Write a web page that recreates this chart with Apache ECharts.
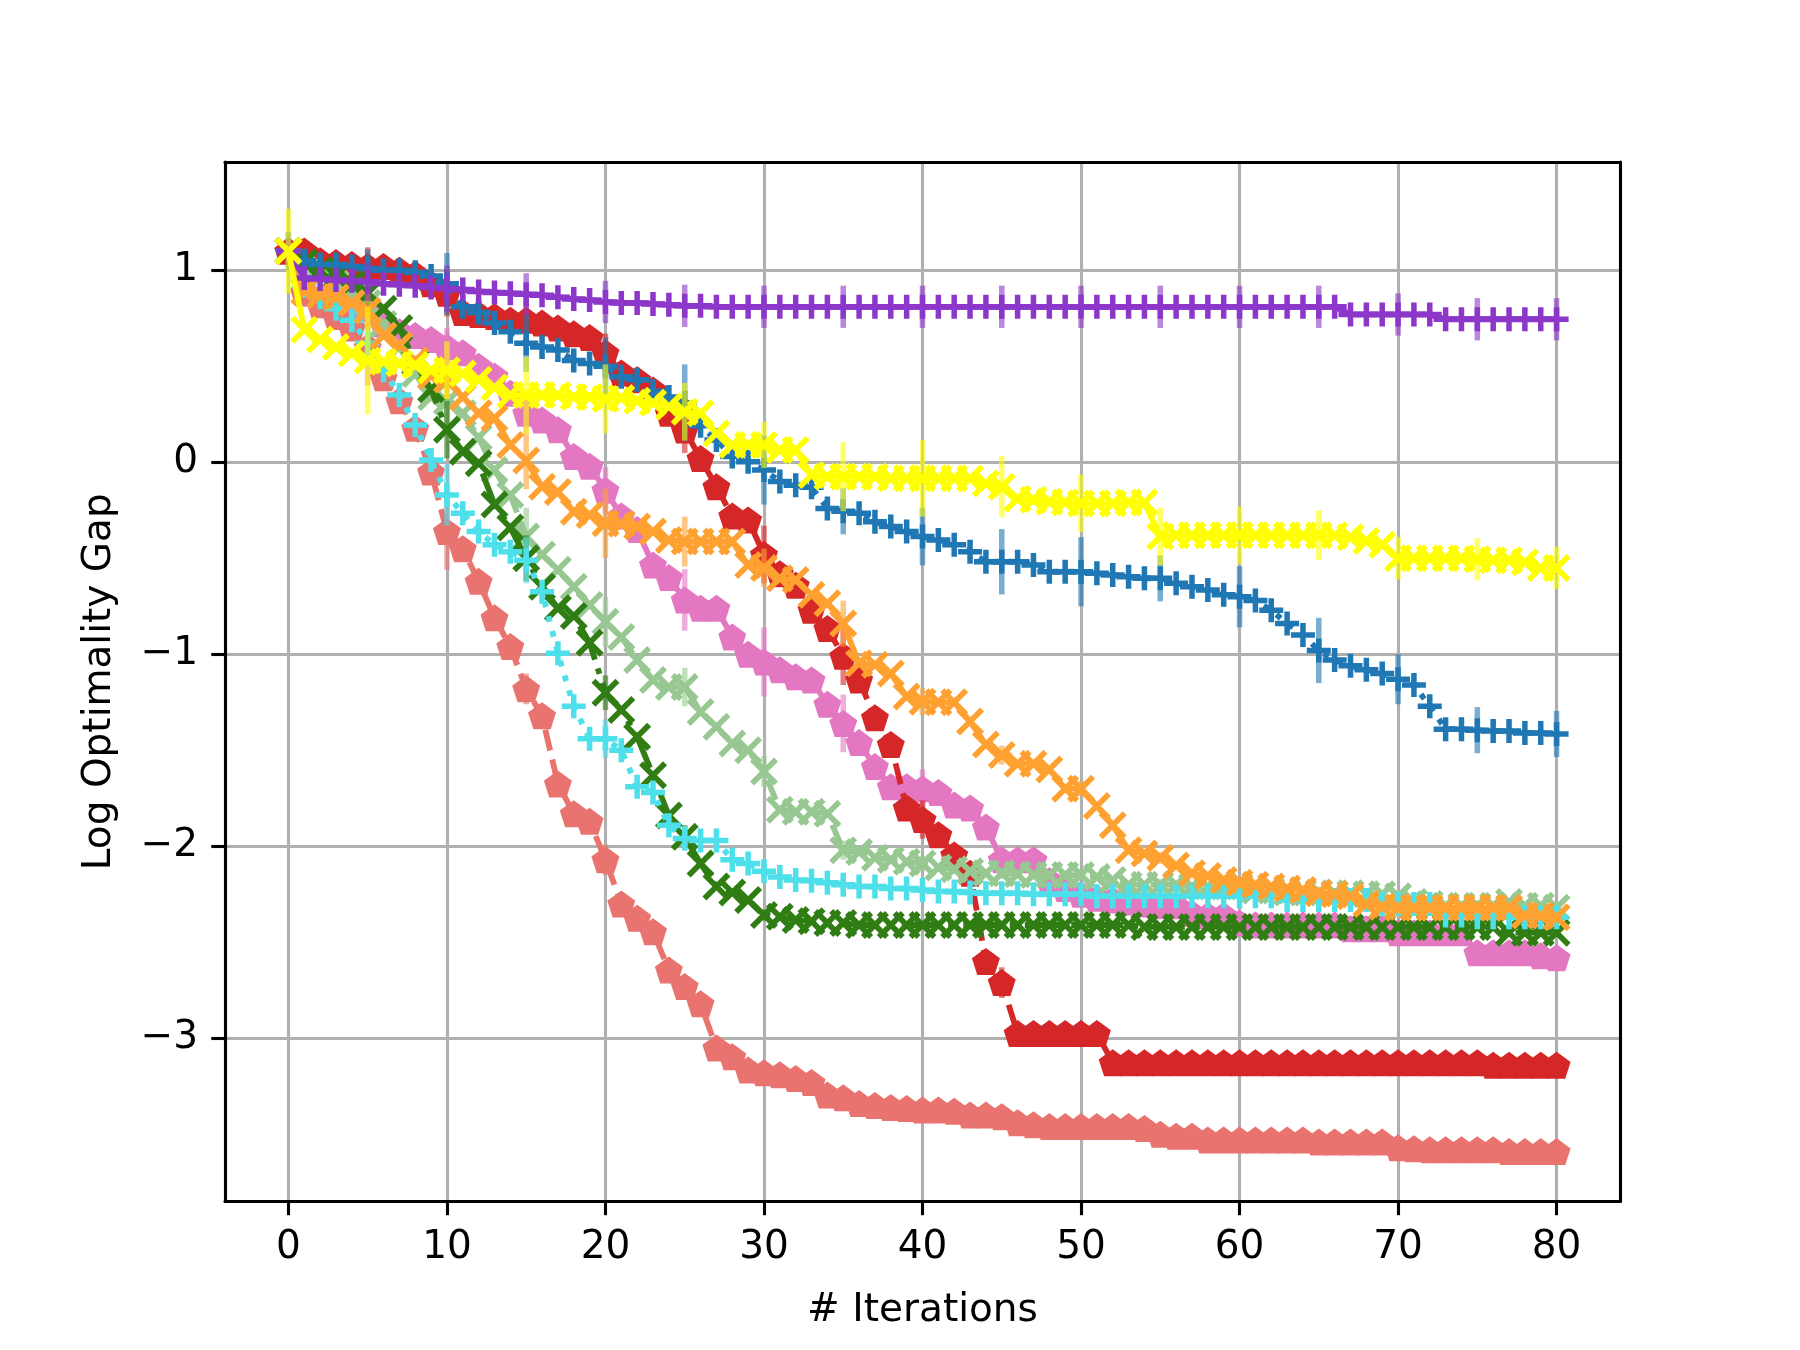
<!DOCTYPE html>
<html>
<head>
<meta charset="utf-8">
<script src="https://cdn.jsdelivr.net/npm/echarts@6/dist/echarts.min.js"></script>
<style>html,body{margin:0;padding:0;background:#fff}#c{width:1800px;height:1350px}</style>
</head>
<body>
<div id="c"></div>
<script>
// ---------------- data ----------------
const xTicks = [0, 10, 20, 30, 40, 50, 60, 70, 80];
const yTicks = [-3, -2, -1, 0, 1];
const errX = [0, 5, 10, 15, 20, 25, 30, 35, 40, 45, 50, 55, 60, 65, 70, 75, 80];

const purple = [1.10,0.96,0.955,0.95,0.945,0.94,0.93,0.925,0.92,0.91,0.905,
 0.90,0.89,0.885,0.88,0.875,0.87,0.86,0.85,0.845,0.835,
 0.83,0.83,0.825,0.82,0.815,0.815,0.81,0.81,0.81,0.81,
 0.81,0.81,0.81,0.81,0.81,0.81,0.81,0.81,0.81,0.81,
 0.81,0.81,0.81,0.81,0.81,0.81,0.81,0.81,0.81,0.81,
 0.81,0.81,0.81,0.81,0.81,0.81,0.81,0.81,0.81,0.81,
 0.81,0.81,0.81,0.81,0.81,0.81,0.77,0.77,0.77,0.77,
 0.77,0.77,0.745,0.745,0.745,0.745,0.745,0.745,0.745,0.745];
const purpleErr = [0.05,0.10,0.12,0.11,0.11,0.11,0.11,0.11,0.11,0.11,0.11,0.11,0.11,0.11,0.11,0.11,0.11];

const blue = [1.10,1.05,1.03,1.03,1.02,1.01,1.0,1.0,0.99,0.97,0.93,
 0.81,0.78,0.725,0.68,0.62,0.60,0.585,0.53,0.515,0.50,
 0.445,0.43,0.37,0.34,0.31,0.19,0.116,0.03,0.003,-0.04,
 -0.10,-0.12,-0.13,-0.24,-0.255,-0.265,-0.31,-0.335,-0.36,-0.387,
 -0.405,-0.43,-0.466,-0.518,-0.518,-0.518,-0.535,-0.57,-0.57,-0.57,
 -0.578,-0.587,-0.596,-0.604,-0.604,-0.63,-0.648,-0.665,-0.69,-0.70,
 -0.72,-0.77,-0.84,-0.90,-0.98,-1.03,-1.06,-1.08,-1.10,-1.13,
 -1.16,-1.27,-1.39,-1.39,-1.395,-1.40,-1.40,-1.41,-1.41,-1.415];
const blueErr = [0.10,0.10,0.16,0.15,0.15,0.20,0.18,0.12,0.15,0.17,0.18,0.12,0.16,0.17,0.13,0.12,0.12];

const yellow = [1.10,0.69,0.64,0.60,0.567,0.53,0.524,0.515,0.507,0.48,0.48,
 0.463,0.43,0.39,0.35,0.35,0.35,0.35,0.34,0.34,0.33,
 0.335,0.32,0.31,0.29,0.263,0.255,0.15,0.09,0.09,0.09,
 0.064,0.064,-0.066,-0.075,-0.075,-0.075,-0.075,-0.083,-0.083,-0.083,
 -0.083,-0.083,-0.085,-0.11,-0.127,-0.19,-0.195,-0.205,-0.21,-0.214,
 -0.215,-0.215,-0.21,-0.21,-0.387,-0.38,-0.38,-0.38,-0.38,-0.38,
 -0.38,-0.38,-0.38,-0.38,-0.38,-0.38,-0.39,-0.41,-0.43,-0.50,
 -0.50,-0.50,-0.50,-0.50,-0.505,-0.51,-0.51,-0.52,-0.55,-0.55];
const yellowErr = [0.22,0.28,0.15,0.20,0.18,0.15,0.12,0.18,0.20,0.16,0.15,0.15,0.15,0.13,0.11,0.11,0.11];

const red = [1.10,1.10,1.05,1.04,1.03,1.02,1.02,1.0,0.98,0.93,0.88,
 0.78,0.77,0.76,0.74,0.74,0.725,0.70,0.67,0.65,0.57,
 0.465,0.43,0.377,0.256,0.168,0.02,-0.127,-0.28,-0.30,-0.48,
 -0.58,-0.64,-0.77,-0.865,-1.01,-1.134,-1.33,-1.47,-1.80,-1.86,
 -1.94,-2.045,-2.14,-2.60,-2.71,-2.975,-2.975,-2.975,-2.975,-2.975,
 -2.975,-3.127,-3.127,-3.127,-3.127,-3.127,-3.127,-3.127,-3.127,-3.127,
 -3.127,-3.127,-3.127,-3.127,-3.127,-3.127,-3.127,-3.127,-3.127,-3.127,
 -3.127,-3.127,-3.127,-3.127,-3.127,-3.14,-3.14,-3.14,-3.14,-3.14];
const redErr = [0.05,0.10,0.12,0.08,0.10,0.12,0.15,0.15,0.10,0.08,0.03,0.03,0.03,0.03,0.03,0.03,0.03];

const salmon = [1.10,0.89,0.82,0.76,0.70,0.60,0.44,0.32,0.177,-0.05,-0.36,
 -0.45,-0.62,-0.81,-0.96,-1.18,-1.32,-1.675,-1.83,-1.87,-2.07,
 -2.30,-2.375,-2.445,-2.644,-2.73,-2.82,-3.05,-3.096,-3.165,-3.18,
 -3.19,-3.21,-3.23,-3.295,-3.31,-3.34,-3.35,-3.36,-3.365,-3.373,
 -3.373,-3.38,-3.40,-3.40,-3.408,-3.44,-3.45,-3.46,-3.46,-3.46,
 -3.46,-3.46,-3.46,-3.47,-3.50,-3.51,-3.51,-3.53,-3.53,-3.53,
 -3.53,-3.53,-3.53,-3.53,-3.54,-3.54,-3.54,-3.54,-3.54,-3.57,
 -3.575,-3.58,-3.58,-3.58,-3.58,-3.58,-3.59,-3.59,-3.59,-3.59];
const salmonErr = [0.05,0.20,0.20,0.08,0.08,0.05,0.03,0.03,0.02,0.02,0.02,0.02,0.02,0.02,0.02,0.02,0.02];

const pink = [1.10,0.88,0.854,0.84,0.82,0.80,0.72,0.68,0.66,0.64,0.60,
 0.57,0.50,0.45,0.36,0.256,0.22,0.17,0.03,-0.02,-0.145,
 -0.28,-0.35,-0.535,-0.60,-0.717,-0.76,-0.76,-0.91,-1.0,-1.04,
 -1.08,-1.117,-1.134,-1.26,-1.36,-1.46,-1.585,-1.69,-1.69,-1.70,
 -1.72,-1.785,-1.80,-1.90,-2.07,-2.07,-2.07,-2.18,-2.22,-2.25,
 -2.27,-2.28,-2.29,-2.30,-2.31,-2.31,-2.35,-2.36,-2.36,-2.40,
 -2.41,-2.41,-2.41,-2.41,-2.41,-2.41,-2.43,-2.43,-2.43,-2.45,
 -2.45,-2.45,-2.45,-2.45,-2.555,-2.555,-2.555,-2.555,-2.57,-2.58];
const pinkErr = [0.05,0.10,0.10,0.10,0.12,0.16,0.18,0.15,0.10,0.05,0.03,0.03,0.03,0.03,0.03,0.03,0.03];

const orange = [1.10,0.89,0.87,0.86,0.83,0.79,0.66,0.61,0.53,0.45,0.43,
 0.34,0.256,0.23,0.09,0.01,-0.127,-0.155,-0.257,-0.275,-0.318,
 -0.32,-0.335,-0.36,-0.405,-0.413,-0.413,-0.413,-0.413,-0.535,-0.55,
 -0.604,-0.613,-0.69,-0.734,-0.84,-1.047,-1.055,-1.10,-1.22,-1.247,
 -1.25,-1.25,-1.35,-1.47,-1.525,-1.57,-1.57,-1.60,-1.70,-1.70,
 -1.79,-1.89,-2.02,-2.037,-2.06,-2.10,-2.14,-2.155,-2.175,-2.19,
 -2.20,-2.21,-2.22,-2.227,-2.245,-2.25,-2.26,-2.30,-2.315,-2.32,
 -2.32,-2.32,-2.32,-2.32,-2.32,-2.32,-2.32,-2.36,-2.36,-2.37];
const orangeErr = [0.05,0.10,0.10,0.15,0.18,0.13,0.10,0.12,0.07,0.05,0.04,0.03,0.03,0.03,0.03,0.03,0.03];

const lightGreen = [1.10,1.0,0.97,0.93,0.88,0.83,0.72,0.60,0.46,0.34,0.316,
 0.255,0.13,-0.04,-0.17,-0.387,-0.48,-0.56,-0.648,-0.743,-0.83,
 -0.91,-1.03,-1.134,-1.17,-1.17,-1.30,-1.377,-1.464,-1.50,-1.61,
 -1.81,-1.82,-1.82,-1.83,-2.02,-2.03,-2.06,-2.07,-2.08,-2.09,
 -2.11,-2.12,-2.13,-2.14,-2.14,-2.145,-2.15,-2.15,-2.15,-2.15,
 -2.16,-2.175,-2.20,-2.20,-2.20,-2.20,-2.21,-2.21,-2.21,-2.21,
 -2.23,-2.23,-2.24,-2.24,-2.24,-2.245,-2.245,-2.25,-2.25,-2.26,
 -2.29,-2.30,-2.31,-2.31,-2.31,-2.31,-2.29,-2.31,-2.31,-2.32];
const lightGreenErr = [0.05,0.10,0.12,0.15,0.13,0.10,0.08,0.05,0.04,0.03,0.03,0.03,0.03,0.03,0.03,0.03,0.03];

const darkGreen = [1.10,1.04,1.0,0.97,0.93,0.88,0.80,0.70,0.52,0.38,0.17,
 0.055,-0.005,-0.22,-0.34,-0.50,-0.648,-0.76,-0.80,-0.94,-1.20,
 -1.29,-1.43,-1.63,-1.84,-1.95,-2.09,-2.21,-2.24,-2.28,-2.358,
 -2.367,-2.384,-2.39,-2.40,-2.40,-2.41,-2.41,-2.41,-2.41,-2.41,
 -2.41,-2.41,-2.41,-2.41,-2.41,-2.41,-2.41,-2.41,-2.41,-2.41,
 -2.41,-2.41,-2.41,-2.42,-2.42,-2.42,-2.42,-2.42,-2.42,-2.42,
 -2.42,-2.42,-2.42,-2.42,-2.42,-2.42,-2.42,-2.42,-2.42,-2.42,
 -2.42,-2.42,-2.42,-2.42,-2.42,-2.42,-2.45,-2.45,-2.45,-2.45];
const darkGreenErr = [0.05,0.10,0.15,0.12,0.09,0.06,0.03,0.02,0.02,0.02,0.02,0.02,0.02,0.02,0.02,0.02,0.02];

const cyan = [1.10,0.92,0.86,0.80,0.74,0.62,0.48,0.35,0.194,0.012,-0.17,
 -0.266,-0.36,-0.43,-0.466,-0.51,-0.674,-0.995,-1.27,-1.44,-1.44,
 -1.50,-1.69,-1.72,-1.89,-1.96,-1.97,-1.97,-2.07,-2.09,-2.13,
 -2.16,-2.175,-2.18,-2.19,-2.20,-2.21,-2.21,-2.22,-2.22,-2.227,
 -2.236,-2.236,-2.24,-2.245,-2.245,-2.245,-2.25,-2.25,-2.25,-2.25,
 -2.26,-2.26,-2.26,-2.26,-2.26,-2.26,-2.26,-2.26,-2.26,-2.26,
 -2.26,-2.26,-2.28,-2.28,-2.28,-2.28,-2.28,-2.28,-2.30,-2.30,
 -2.30,-2.30,-2.36,-2.36,-2.37,-2.37,-2.37,-2.37,-2.37,-2.37];
const cyanErr = [0.05,0.10,0.16,0.12,0.10,0.06,0.04,0.03,0.03,0.03,0.03,0.03,0.03,0.03,0.03,0.03,0.03];

// ---------------- layout ----------------
const W = 1800, H = 1350;
const AX_L = 225, AX_R = 1620, AX_T = 162, AX_B = 1201.5;
const X0PX = 288.5, X80PX = 1556.5;          // pixel of x=0 and x=80
const XMIN = -4, XMAX = 84;
const PX_PER_Y = 192;
const Y0PX = 462.3;                           // pixel of y=0
const YMAX = (Y0PX - AX_T) / PX_PER_Y;
const YMIN = (Y0PX - AX_B) / PX_PER_Y;
const FONT = 'DejaVu Sans';
const LW = 5.8;

const SYM_PENT = 'path://M0,-100 L95.1,-30.9 L58.8,80.9 L-58.8,80.9 L-95.1,-30.9 Z';
const SYM_PLUS = 'path://M9.25,0 L14.75,0 L14.75,9.25 L24,9.25 L24,14.75 L14.75,14.75 L14.75,24 L9.25,24 L9.25,14.75 L0,14.75 L0,9.25 L9.25,9.25 Z';
const SYM_X = 'path://M0,4 L4,0 L14,10 L24,0 L28,4 L18,14 L28,24 L24,28 L14,18 L4,28 L0,24 L10,14 Z';

const DOT = [LW, LW * 1.65];
const DASH = [LW * 3.7, LW * 1.6];
const DASHDOT = [LW * 6.4, LW * 1.6, LW, LW * 1.6];

const PENT_SIZE = [28, 27];
const X_SIZE = 28;
const PLUS_SIZE = 24;

const seriesDefs = [
  {name: 'pink', vals: pink, errs: pinkErr, color: '#e377c2', sym: SYM_PENT, size: PENT_SIZE, line: 'solid'},
  {name: 'salmon', vals: salmon, errs: salmonErr, color: '#e9736f', sym: SYM_PENT, size: PENT_SIZE, line: DASH},
  {name: 'red', vals: red, errs: redErr, color: '#d62728', sym: SYM_PENT, size: PENT_SIZE, line: DASH},
  {name: 'lightGreen', vals: lightGreen, errs: lightGreenErr, color: '#98c891', sym: SYM_X, size: X_SIZE, line: DASH},
  {name: 'darkGreen', vals: darkGreen, errs: darkGreenErr, color: '#2f7d13', sym: SYM_X, size: X_SIZE, line: DASHDOT},
  {name: 'cyan', vals: cyan, errs: cyanErr, color: '#4de0ea', sym: SYM_PLUS, size: PLUS_SIZE, line: DOT},
  {name: 'orange', vals: orange, errs: orangeErr, color: '#ffa130', sym: SYM_X, size: X_SIZE, line: 'solid'},
  {name: 'blue', vals: blue, errs: blueErr, color: '#1f77b4', sym: SYM_PLUS, size: PLUS_SIZE, line: DOT},
  {name: 'purple', vals: purple, errs: purpleErr, color: '#8c37c9', sym: SYM_PLUS, size: PLUS_SIZE, line: 'solid'},
  {name: 'yellow', vals: yellow, errs: yellowErr, color: '#ffff00', sym: SYM_X, size: X_SIZE, line: 'solid'}
];

const series = [];
seriesDefs.forEach((d, k) => {
  series.push({
    type: 'custom', name: d.name + '-err', xAxisIndex: 0, yAxisIndex: 0,
    silent: true, animation: false, clip: false, z: 3 + k * 2,
    data: errX.map((x, i) => [x, d.vals[x], d.errs[i]]),
    renderItem: function (params, api) {
      const x = api.value(0), y = api.value(1), e = api.value(2);
      const a = api.coord([x, y + e]), b = api.coord([x, y - e]);
      return {type: 'line', shape: {x1: a[0], y1: a[1], x2: b[0], y2: b[1]},
              style: {stroke: d.color, lineWidth: 5.5, opacity: 0.6}};
    }
  });
  series.push({
    type: 'line', name: d.name, xAxisIndex: 0, yAxisIndex: 0,
    data: d.vals.map((v, i) => [i, v]),
    symbol: d.sym, symbolSize: d.size, showSymbol: true, showAllSymbol: true,
    lineStyle: {color: d.color, width: LW, type: d.line, cap: 'butt', join: 'miter'},
    itemStyle: {color: d.color, opacity: 1},
    emphasis: {disabled: true}, animation: false, clip: false, silent: true,
    z: 4 + k * 2
  });
});

const minus = v => String(v).replace('-', '\u2212');
const blackLine = {show: true, onZero: false, lineStyle: {color: '#000', width: 3.1}};
const gridLine = {show: true, lineStyle: {color: '#b0b0b0', width: 3.1, type: 'solid'}};

const option = {
  backgroundColor: '#ffffff',
  animation: false,
  grid: [
    {left: AX_L, right: W - AX_R, top: AX_T, bottom: H - AX_B, containLabel: false},
    {left: AX_L, right: W - AX_R, top: Y0PX - PX_PER_Y, bottom: H - (Y0PX + 3 * PX_PER_Y), containLabel: false},
    {left: X0PX, right: W - X80PX, top: AX_T, bottom: H - AX_B, containLabel: false}
  ],
  xAxis: [
    {type: 'value', gridIndex: 0, min: XMIN, max: XMAX, position: 'bottom', axisLine: blackLine,
     axisTick: {show: false}, axisLabel: {show: false}, splitLine: {show: false}, z: 20},
    {type: 'value', gridIndex: 0, min: XMIN, max: XMAX, position: 'top', axisLine: blackLine,
     axisTick: {show: false}, axisLabel: {show: false}, splitLine: {show: false}, z: 20},
    {type: 'value', gridIndex: 1, min: XMIN, max: XMAX, show: false},
    {type: 'value', gridIndex: 2, min: xTicks[0], max: xTicks[xTicks.length - 1], interval: 10, position: 'bottom',
     axisLine: {show: false, onZero: false},
     axisTick: {show: true, inside: false, length: 13.7, lineStyle: {color: '#000', width: 3.1}},
     axisLabel: {show: true, margin: 27, color: '#000', fontSize: 39, fontFamily: FONT, showMinLabel: true, showMaxLabel: true,
                 formatter: minus},
     splitLine: gridLine, z: 1}
  ],
  yAxis: [
    {type: 'value', gridIndex: 0, min: YMIN, max: YMAX, position: 'left', axisLine: blackLine,
     axisTick: {show: false}, axisLabel: {show: false}, splitLine: {show: false}, z: 20},
    {type: 'value', gridIndex: 0, min: YMIN, max: YMAX, position: 'right', axisLine: blackLine,
     axisTick: {show: false}, axisLabel: {show: false}, splitLine: {show: false}, z: 20},
    {type: 'value', gridIndex: 1, min: yTicks[0], max: yTicks[yTicks.length - 1], interval: 1, position: 'left',
     axisLine: {show: false, onZero: false},
     axisTick: {show: true, inside: false, length: 13.7, lineStyle: {color: '#000', width: 3.1}},
     axisLabel: {show: true, margin: 27, color: '#000', fontSize: 39, fontFamily: FONT, showMinLabel: true, showMaxLabel: true,
                 formatter: minus},
     splitLine: gridLine, z: 1},
    {type: 'value', gridIndex: 2, min: YMIN, max: YMAX, show: false}
  ],
  graphic: [
    {type: 'text', x: (AX_L + AX_R) / 2, y: 1311, z: 50,
     style: {text: '# Iterations', fill: '#000', font: '39px "DejaVu Sans"', align: 'center', verticalAlign: 'middle'}},
    {type: 'text', x: 100, y: (AX_T + AX_B) / 2, rotation: Math.PI / 2, z: 50,
     style: {text: 'Log Optimality Gap', fill: '#000', font: '39px "DejaVu Sans"', align: 'center', verticalAlign: 'middle'}}
  ],
  series: series
};

const chart = echarts.init(document.getElementById('c'), null, {renderer: 'canvas', width: W, height: H});
chart.setOption(option);
</script>
</body>
</html>
